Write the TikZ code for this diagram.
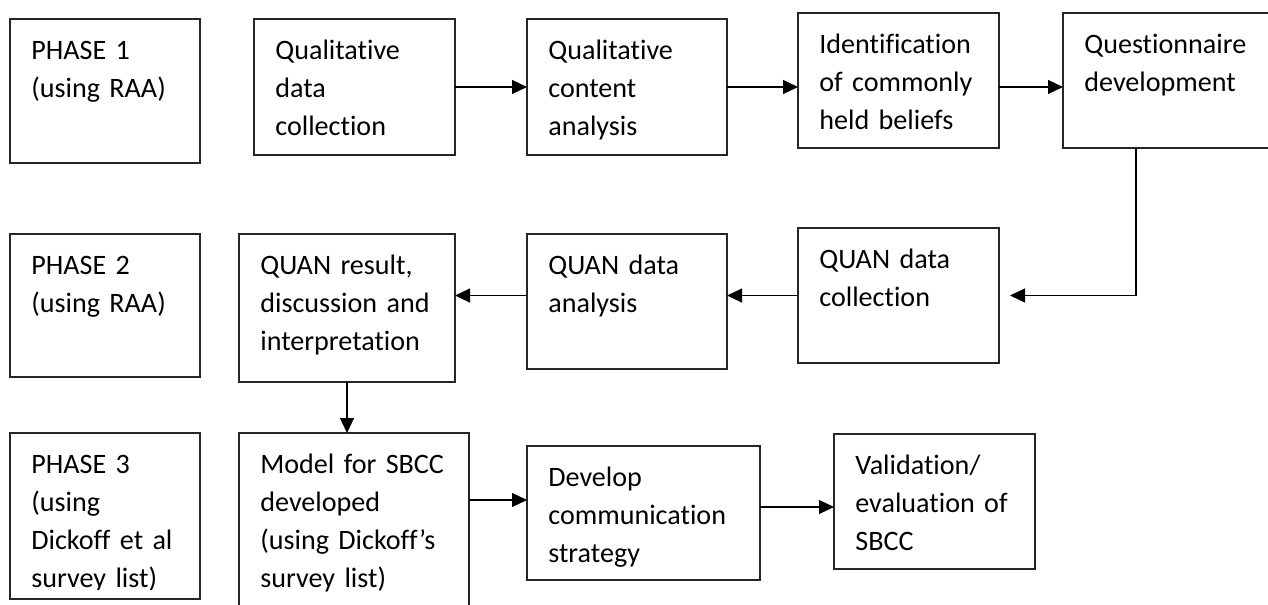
\documentclass[tikz,border=0pt]{standalone}
\usepackage{fontspec}
\setmainfont{Carlito}[Ligatures=NoCommon]
\usetikzlibrary{arrows.meta}

\begin{document}
\begin{tikzpicture}[
    font=\fontsize{16}{21.8}\selectfont,
    box/.style={rectangle, draw=black!85, line width=0.7pt, anchor=north west, inner sep=0, outer sep=0},
    txt/.style={anchor=base west, inner sep=0, text width=4.6cm, align=left},
    arrow/.style={-{Triangle[length=0.3cm, width=0.28cm]}, line width=0.6pt}
]

% page frame
\clip (0,0) rectangle (25.36,12.08);

% ============================================
% PHASE 1
% ============================================

\node[box, minimum width=3.80cm, minimum height=2.88cm] (p1) at (0.20, 11.70) {};
\node[txt] (p1t) at ([shift={(0.42,-0.80)}]p1.north west) {PHASE 1\\(using RAA)};

\node[box, minimum width=4.02cm, minimum height=2.72cm] (qdc) at (5.08, 11.70) {};
\node[txt] (qdct) at ([shift={(0.42,-0.80)}]qdc.north west) {Qualitative\\data\\collection};

\node[box, minimum width=4.00cm, minimum height=2.72cm] (qca) at (10.54, 11.70) {};
\node[txt] (qcat) at ([shift={(0.42,-0.80)}]qca.north west) {Qualitative\\content\\analysis};

\node[box, minimum width=4.02cm, minimum height=2.70cm] (icb) at (15.96, 11.82) {};
\node[txt] (icbt) at ([shift={(0.42,-0.80)}]icb.north west) {Identification\\of commonly\\held beliefs};

\node[box, minimum width=4.30cm, minimum height=2.70cm] (qd) at (21.26, 11.82) {};
\node[txt] (qdt) at ([shift={(0.42,-0.80)}]qd.north west) {Questionnaire\\development};

% ============================================
% PHASE 2
% ============================================

\node[box, minimum width=3.80cm, minimum height=2.86cm] (p2) at (0.20, 7.40) {};
\node[txt] (p2t) at ([shift={(0.42,-0.80)}]p2.north west) {PHASE 2\\(using RAA)};

\node[box, minimum width=4.32cm, minimum height=2.96cm] (qri) at (4.78, 7.40) {};
\node[txt] (qrit) at ([shift={(0.42,-0.80)}]qri.north west) {QUAN result,\\discussion and\\interpretation};

\node[box, minimum width=4.00cm, minimum height=2.70cm] (qda) at (10.54, 7.40) {};
\node[txt] (qdat) at ([shift={(0.42,-0.80)}]qda.north west) {QUAN data\\analysis};

\node[box, minimum width=4.02cm, minimum height=2.70cm] (qdc2) at (15.96, 7.52) {};
\node[txt] (qdc2t) at ([shift={(0.42,-0.80)}]qdc2.north west) {QUAN data\\collection};

% ============================================
% PHASE 3
% ============================================

\node[box, minimum width=3.80cm, minimum height=3.32cm] (p3) at (0.20, 3.42) {};
\begin{scope}
  \clip (p3.north west) rectangle ([yshift=0.20cm]p3.south east);
  \node[txt] (p3t) at ([shift={(0.42,-0.80)}]p3.north west) {PHASE 3\\(using\\Dickoff et al\\survey list)};
\end{scope}

\node[box, minimum width=4.60cm, minimum height=3.74cm] (msb) at (4.78, 3.42) {};
\node[txt] (msbt) at ([shift={(0.42,-0.80)}]msb.north west) {Model for SBCC\\developed\\(using Dickoff’s\\survey list)};

\node[box, minimum width=4.66cm, minimum height=2.68cm] (dcs) at (10.54, 3.16) {};
\node[txt] (dcst) at ([shift={(0.42,-0.80)}]dcs.north west) {Develop\\communication\\strategy};

\node[box, minimum width=4.02cm, minimum height=2.70cm] (ves) at (16.68, 3.40) {};
\node[txt] (vest) at ([shift={(0.42,-0.80)}]ves.north west) {Validation/\\evaluation of\\SBCC};

% ============================================
% FLECHAS
% ============================================

\draw[arrow] (qdc.east) -- (qca.west);
\draw[arrow] (qca.east) -- (qca.east -| icb.west);
\draw[arrow] (icb.east |- qca.east) -- (qca.east -| qd.west);
\draw[arrow] ([xshift=1.46cm]qd.south west) |- ([xshift=0.22cm]qdc2.east);
\draw[arrow] (qdc2.west) -- (qdc2.west -| qda.east);
\draw[arrow] (qda.west |- qdc2.west) -- (qdc2.west -| qri.east);
\draw[arrow] (qri.south) -- (qri.south |- msb.north);

\coordinate (m) at ([yshift=0.26cm]dcs.west);
\draw[arrow] (m -| msb.east) -- (m);
\coordinate (d) at ([yshift=0.12cm]dcs.east);
\draw[arrow] (d) -- (d -| ves.west);

\end{tikzpicture}
\end{document}
